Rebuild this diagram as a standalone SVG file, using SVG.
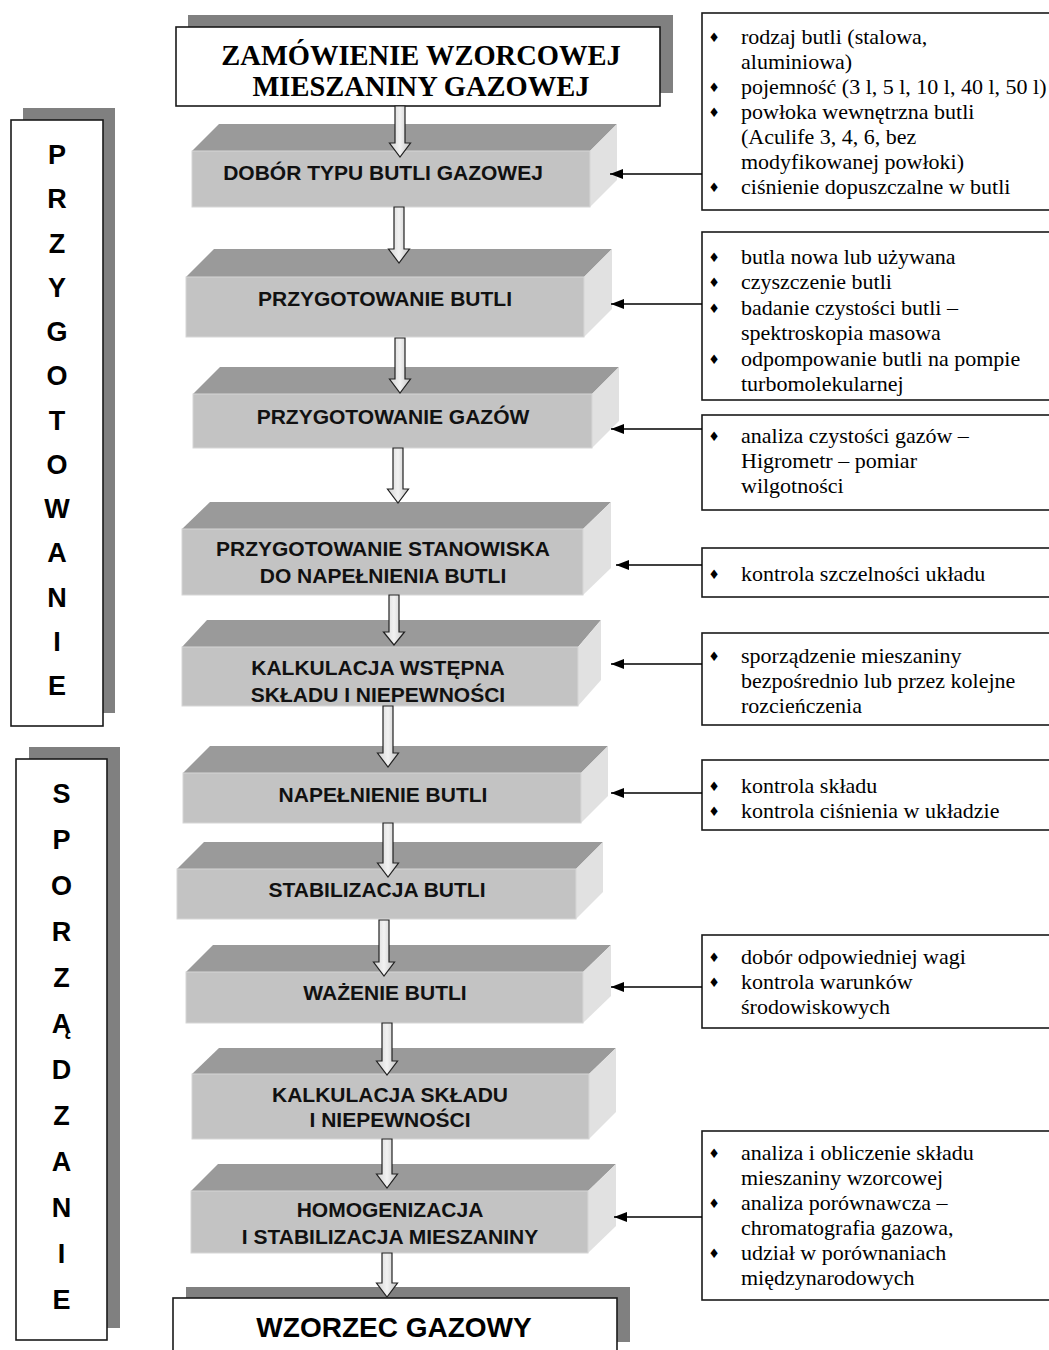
<svg xmlns="http://www.w3.org/2000/svg" width="1049" height="1350" viewBox="0 0 1049 1350">
<style>
.bg{fill:#ffffff}
.shadow{fill:#808080}
.box{fill:#ffffff;stroke:#1a1a1a;stroke-width:1.6}
.top{fill:#9a9a9a}
.front{fill:#c3c3c3;stroke:#d6d6d6;stroke-width:1}
.side{fill:#e1e1e1}
.bt{font-family:"Liberation Sans",Arial,sans-serif;font-weight:bold;font-size:21px;fill:#111;text-anchor:middle}
.side-letter{font-family:"Liberation Sans",Arial,sans-serif;font-weight:bold;font-size:27px;fill:#000;text-anchor:middle}
.head{font-family:"Liberation Serif","Times New Roman",serif;font-weight:bold;font-size:28.5px;fill:#000;text-anchor:middle}
.big{font-family:"Liberation Sans",Arial,sans-serif;font-weight:bold;font-size:28px;fill:#000;text-anchor:middle}
.note{font-family:"Liberation Serif","Times New Roman",serif;font-size:22px;fill:#000}
.bul{font-family:"DejaVu Sans",sans-serif;font-size:13px;fill:#000;text-anchor:middle}
.conn{stroke:#000;stroke-width:1.3;fill:none}
.barrow{fill:url(#shaft);stroke:#222;stroke-width:1.2;stroke-linejoin:miter}
</style>
<defs>
<linearGradient id="shaft" x1="0" y1="0" x2="1" y2="0">
<stop offset="0" stop-color="#d2d2d2"/>
<stop offset="0.5" stop-color="#f2f2f2"/>
<stop offset="1" stop-color="#c4c4c4"/>
</linearGradient>
<marker id="ah" markerUnits="userSpaceOnUse" markerWidth="13" markerHeight="10" refX="13" refY="5" orient="auto">
<path d="M0,0 L13,5 L0,10 z" fill="#000"/>
</marker>
</defs>
<rect class="bg" x="0" y="0" width="1049" height="1350"/>

<!-- Side labels -->
<g id="side-przygotowanie">
<rect class="shadow" x="23" y="108" width="92" height="605"/>
<rect class="box" x="11" y="120" width="92" height="606"/>
<text class="side-letter" x="57" y="164">P</text>
<text class="side-letter" x="57" y="208">R</text>
<text class="side-letter" x="57" y="253">Z</text>
<text class="side-letter" x="57" y="297">Y</text>
<text class="side-letter" x="57" y="341">G</text>
<text class="side-letter" x="57" y="385">O</text>
<text class="side-letter" x="57" y="430">T</text>
<text class="side-letter" x="57" y="474">O</text>
<text class="side-letter" x="57" y="518">W</text>
<text class="side-letter" x="57" y="562">A</text>
<text class="side-letter" x="57" y="607">N</text>
<text class="side-letter" x="57" y="651">I</text>
<text class="side-letter" x="57" y="695">E</text>
</g>
<g id="side-sporzadzanie">
<rect class="shadow" x="29" y="747" width="91" height="581"/>
<rect class="box" x="16" y="759" width="91" height="581"/>
<text class="side-letter" x="61.5" y="803">S</text>
<text class="side-letter" x="61.5" y="849">P</text>
<text class="side-letter" x="61.5" y="895">O</text>
<text class="side-letter" x="61.5" y="941">R</text>
<text class="side-letter" x="61.5" y="987">Z</text>
<text class="side-letter" x="61.5" y="1033">Ą</text>
<text class="side-letter" x="61.5" y="1079">D</text>
<text class="side-letter" x="61.5" y="1125">Z</text>
<text class="side-letter" x="61.5" y="1171">A</text>
<text class="side-letter" x="61.5" y="1217">N</text>
<text class="side-letter" x="61.5" y="1263">I</text>
<text class="side-letter" x="61.5" y="1309">E</text>
</g>

<!-- Header -->
<g id="n-zamowienie">
<rect class="shadow" x="188" y="15" width="485" height="78"/>
<rect class="box" x="176" y="27" width="484" height="79"/>
<text class="head" x="421" y="65">ZAMÓWIENIE WZORCOWEJ</text>
<text class="head" x="421" y="96">MIESZANINY GAZOWEJ</text>
</g>

<!-- Blocks -->
<g id="n-dobor">
<polygon class="top" points="192,151 219,124 617,124 590,151"/>
<polygon class="side" points="590,151 617,124 617,180 590,207"/>
<rect class="front" x="192" y="151" width="398" height="56"/>
<text class="bt" x="383" y="180">DOBÓR TYPU BUTLI GAZOWEJ</text>
</g>
<g id="n-przyg-butli">
<polygon class="top" points="186,277 214,249 612,249 584,277"/>
<polygon class="side" points="584,277 612,249 612,309 584,337"/>
<rect class="front" x="186" y="277" width="398" height="60"/>
<text class="bt" x="385" y="306">PRZYGOTOWANIE BUTLI</text>
</g>
<g id="n-przyg-gazow">
<polygon class="top" points="193,394 220,367 619,367 592,394"/>
<polygon class="side" points="592,394 619,367 619,421 592,448"/>
<rect class="front" x="193" y="394" width="399" height="54"/>
<text class="bt" x="393" y="424">PRZYGOTOWANIE GAZÓW</text>
</g>
<g id="n-stanowisko">
<polygon class="top" points="182,529 210,502 611,502 583,529"/>
<polygon class="side" points="583,529 611,502 611,568 583,595"/>
<rect class="front" x="182" y="529" width="401" height="66"/>
<text class="bt" x="383" y="556">PRZYGOTOWANIE STANOWISKA</text>
<text class="bt" x="383" y="583">DO NAPEŁNIENIA BUTLI</text>
</g>
<g id="n-kalk-wstepna">
<polygon class="top" points="182,647 207,620 601,620 578,647"/>
<polygon class="side" points="578,647 601,620 601,680 578,706"/>
<rect class="front" x="182" y="647" width="396" height="59"/>
<text class="bt" x="378" y="675">KALKULACJA WSTĘPNA</text>
<text class="bt" x="378" y="702">SKŁADU I NIEPEWNOŚCI</text>
</g>
<g id="n-napelnienie">
<polygon class="top" points="183,773 210,746 608,746 581,773"/>
<polygon class="side" points="581,773 608,746 608,796 581,823"/>
<rect class="front" x="183" y="773" width="398" height="50"/>
<text class="bt" x="383" y="802">NAPEŁNIENIE BUTLI</text>
</g>
<g id="n-stabilizacja">
<polygon class="top" points="177,869 204,842 603,842 576,869"/>
<polygon class="side" points="576,869 603,842 603,892 576,919"/>
<rect class="front" x="177" y="869" width="399" height="50"/>
<text class="bt" x="377" y="897">STABILIZACJA BUTLI</text>
</g>
<g id="n-wazenie">
<polygon class="top" points="186,972 213,945 611,945 583,972"/>
<polygon class="side" points="583,972 611,945 611,996 583,1023"/>
<rect class="front" x="186" y="972" width="397" height="51"/>
<text class="bt" x="385" y="1000">WAŻENIE BUTLI</text>
</g>
<g id="n-kalk-skladu">
<polygon class="top" points="192,1074 219,1048 616,1048 589,1074"/>
<polygon class="side" points="589,1074 616,1048 616,1112 589,1139"/>
<rect class="front" x="192" y="1074" width="397" height="65"/>
<text class="bt" x="390" y="1102">KALKULACJA SKŁADU</text>
<text class="bt" x="390" y="1127">I NIEPEWNOŚCI</text>
</g>
<g id="n-homogenizacja">
<polygon class="top" points="191,1191 218,1164 616,1164 588,1191"/>
<polygon class="side" points="588,1191 616,1164 616,1226 588,1253"/>
<rect class="front" x="191" y="1191" width="397" height="62"/>
<text class="bt" x="390" y="1217">HOMOGENIZACJA</text>
<text class="bt" x="390" y="1244">I STABILIZACJA MIESZANINY</text>
</g>
<g id="n-wzorzec">
<rect class="shadow" x="186" y="1287" width="444" height="55"/>
<rect class="box" x="173" y="1298" width="444" height="60"/>
<text class="big" x="394" y="1337">WZORZEC GAZOWY</text>
</g>

<!-- Notes -->
<g id="note-typ">
<rect class="box" x="702" y="13" width="360" height="197"/>
<text class="bul" x="714" y="42">♦</text>
<text class="note" x="741" y="44">rodzaj butli (stalowa,</text>
<text class="note" x="741" y="69">aluminiowa)</text>
<text class="bul" x="714" y="92">♦</text>
<text class="note" x="741" y="94">pojemność (3 l, 5 l, 10 l, 40 l, 50 l)</text>
<text class="bul" x="714" y="117">♦</text>
<text class="note" x="741" y="119">powłoka wewnętrzna butli</text>
<text class="note" x="741" y="144">(Aculife 3, 4, 6,  bez</text>
<text class="note" x="741" y="169">modyfikowanej powłoki)</text>
<text class="bul" x="714" y="192">♦</text>
<text class="note" x="741" y="194">ciśnienie dopuszczalne w butli</text>
</g>
<g id="note-butla">
<rect class="box" x="702" y="232" width="360" height="168"/>
<text class="bul" x="714" y="262">♦</text>
<text class="note" x="741" y="264">butla nowa lub używana</text>
<text class="bul" x="714" y="287">♦</text>
<text class="note" x="741" y="289">czyszczenie butli</text>
<text class="bul" x="714" y="313">♦</text>
<text class="note" x="741" y="315">badanie czystości butli  –</text>
<text class="note" x="741" y="340">spektroskopia masowa</text>
<text class="bul" x="714" y="364">♦</text>
<text class="note" x="741" y="366">odpompowanie butli na pompie</text>
<text class="note" x="741" y="391">turbomolekularnej</text>
</g>
<g id="note-gazy">
<rect class="box" x="702" y="415" width="360" height="95"/>
<text class="bul" x="714" y="441">♦</text>
<text class="note" x="741" y="443">analiza czystości gazów –</text>
<text class="note" x="741" y="468">Higrometr – pomiar</text>
<text class="note" x="741" y="493">wilgotności</text>
</g>
<g id="note-szczelnosc">
<rect class="box" x="702" y="548" width="360" height="49"/>
<text class="bul" x="714" y="579">♦</text>
<text class="note" x="741" y="581">kontrola szczelności układu</text>
</g>
<g id="note-sporzadzenie">
<rect class="box" x="702" y="633" width="360" height="92"/>
<text class="bul" x="714" y="661">♦</text>
<text class="note" x="741" y="663">sporządzenie mieszaniny</text>
<text class="note" x="741" y="688">bezpośrednio lub przez kolejne</text>
<text class="note" x="741" y="713">rozcieńczenia</text>
</g>
<g id="note-kontrola">
<rect class="box" x="702" y="760" width="360" height="70"/>
<text class="bul" x="714" y="791">♦</text>
<text class="note" x="741" y="793">kontrola składu</text>
<text class="bul" x="714" y="816">♦</text>
<text class="note" x="741" y="818">kontrola ciśnienia w układzie</text>
</g>
<g id="note-waga">
<rect class="box" x="702" y="935" width="360" height="93"/>
<text class="bul" x="714" y="962">♦</text>
<text class="note" x="741" y="964">dobór odpowiedniej wagi</text>
<text class="bul" x="714" y="987">♦</text>
<text class="note" x="741" y="989">kontrola warunków</text>
<text class="note" x="741" y="1014">środowiskowych</text>
</g>
<g id="note-analiza">
<rect class="box" x="702" y="1131" width="360" height="169"/>
<text class="bul" x="714" y="1158">♦</text>
<text class="note" x="741" y="1160">analiza i obliczenie składu</text>
<text class="note" x="741" y="1185">mieszaniny wzorcowej</text>
<text class="bul" x="714" y="1208">♦</text>
<text class="note" x="741" y="1210">analiza porównawcza –</text>
<text class="note" x="741" y="1235">chromatografia gazowa,</text>
<text class="bul" x="714" y="1258">♦</text>
<text class="note" x="741" y="1260">udział w porównaniach</text>
<text class="note" x="741" y="1285">międzynarodowych</text>
</g>

<!-- Connectors -->
<g id="connectors">
<polygon class="barrow" points="395,106 405,106 405,143 410.5,143 400,157 389.5,143 395,143"/>
<polygon class="barrow" points="394,207 404,207 404,249 409.5,249 399,263 388.5,249 394,249"/>
<polygon class="barrow" points="395,338 405,338 405,379 410.5,379 400,393 389.5,379 395,379"/>
<polygon class="barrow" points="393,448 403,448 403,489 408.5,489 398,503 387.5,489 393,489"/>
<polygon class="barrow" points="389,595 399,595 399,632 404.5,632 394,645 383.5,632 389,632"/>
<polygon class="barrow" points="383,706 393,706 393,753 398.5,753 388,767 377.5,753 383,753"/>
<polygon class="barrow" points="383,823 393,823 393,863 398.5,863 388,877 377.5,863 383,863"/>
<polygon class="barrow" points="379,920 389,920 389,962 394.5,962 384,976 373.5,962 379,962"/>
<polygon class="barrow" points="382,1023 392,1023 392,1061 397.5,1061 387,1075 376.5,1061 382,1061"/>
<polygon class="barrow" points="382,1139 392,1139 392,1174 397.5,1174 387,1188 376.5,1174 382,1174"/>
<polygon class="barrow" points="382,1253 392,1253 392,1283 397.5,1283 387,1297 376.5,1283 382,1283"/>
<line class="conn" x1="702" y1="174" x2="610" y2="174" marker-end="url(#ah)"/>
<line class="conn" x1="702" y1="304" x2="611" y2="304" marker-end="url(#ah)"/>
<line class="conn" x1="702" y1="429" x2="611" y2="429" marker-end="url(#ah)"/>
<line class="conn" x1="702" y1="565" x2="616" y2="565" marker-end="url(#ah)"/>
<line class="conn" x1="702" y1="664" x2="611" y2="664" marker-end="url(#ah)"/>
<line class="conn" x1="702" y1="793" x2="611" y2="793" marker-end="url(#ah)"/>
<line class="conn" x1="702" y1="987" x2="611" y2="987" marker-end="url(#ah)"/>
<line class="conn" x1="702" y1="1217" x2="614" y2="1217" marker-end="url(#ah)"/>
</g>
</svg>
